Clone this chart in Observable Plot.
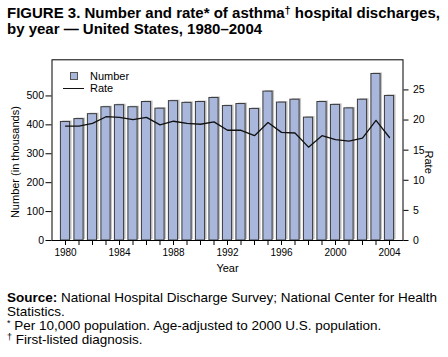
<!DOCTYPE html>
<html><head><meta charset="utf-8">
<script src="https://cdn.jsdelivr.net/npm/d3@7"></script>
<script src="https://cdn.jsdelivr.net/npm/@observablehq/plot@0.6"></script>
<style>
body{margin:0;width:448px;height:357px;position:relative;font-family:"Liberation Sans",Arial,Helvetica,sans-serif;background:#fff;overflow:hidden;color:#000}
#title{position:absolute;left:7px;top:5px;font-weight:bold;font-size:15px;line-height:16px;white-space:nowrap}
#chart{position:absolute;left:0;top:40px}
.leg{position:absolute;font-size:11px;line-height:12px;white-space:nowrap}
#foot{position:absolute;left:7px;top:290.5px;font-size:13.5px;line-height:14.3px;white-space:nowrap}
sup{font-size:9px;vertical-align:top;line-height:1}
</style></head>
<body>
<div id="title">FIGURE 3. Number and rate* of asthma<sup style="font-size:11px">†</sup> hospital discharges,<br>by year — United States, 1980–2004</div>
<div id="chart"></div>
<div style="position:absolute;left:70px;top:72px;width:6px;height:6px;background:#a9b7dc;border:1px solid #555"></div>
<div class="leg" style="left:90px;top:70px">Number</div>
<div style="position:absolute;left:63px;top:87.5px;width:21px;height:1.3px;background:#111"></div>
<div class="leg" style="left:90px;top:82px">Rate</div>
<div id="foot"><b>Source:</b> National Hospital Discharge Survey; National Center for Health<br>Statistics.<br><sup>*</sup> Per 10,000 population. Age-adjusted to 2000 U.S. population.<br><sup>†</sup> First-listed diagnosis.</div>
<script>
const years = [1980,1981,1982,1983,1984,1985,1986,1987,1988,1989,1990,1991,1992,1993,1994,1995,1996,1997,1998,1999,2000,2001,2002,2003,2004];
const numbers = [410,420,437,461,468,461,479,456,482,476,479,493,465,472,455,515,477,487,425,479,469,457,487,576,500];
const rates = [19.0,19.0,19.45,20.55,20.45,20.05,20.45,19.2,19.8,19.45,19.3,19.7,18.3,18.3,17.4,19.6,17.95,17.85,15.5,17.4,16.75,16.5,17.0,19.95,17.1];
const numberTicks = [0,100,200,300,400,500];
const rateTicks = [0,5,10,15,20,25];
const LMAX = 625, RMAX = 30, k = LMAX / RMAX;
const data = years.map((y, i) => ({year: y, number: numbers[i], rate: rates[i]}));
const font = '"Liberation Sans",Arial,Helvetica,sans-serif';
const chart = Plot.plot({
  width: 448, height: 250,
  marginTop: 19.3, marginBottom: 50, marginLeft: 51.5, marginRight: 45.5,
  x: {domain: [1979, 2005]},
  y: {domain: [0, LMAX]},
  style: {fontFamily: font, fontSize: "10px", color: "#000", background: "transparent"},
  marks: [
    Plot.rectY(data, {x1: d => d.year - 0.34, x2: d => d.year + 0.34, y: "number", fill: "#c4c4c4", dx: 2, dy: -1}),
    Plot.rectY(data, {x1: d => d.year - 0.34, x2: d => d.year + 0.34, y: "number", fill: "#a9b7dc", stroke: "#3a3a3a", strokeWidth: 1}),
    Plot.line(data, {x: "year", y: d => d.rate * k, stroke: "#111", strokeWidth: 1.3}),
    Plot.frame({stroke: "#000"}),
    Plot.axisY({ticks: numberTicks, tickSize: 6, tickPadding: 2, label: null, fontSize: 10.5}),
    Plot.axisY({anchor: "right", ticks: rateTicks.map(r => r * k), tickFormat: d => String(Math.round(d / k)), tickSize: 5, tickPadding: 5, label: null, fontSize: 10.5}),
    Plot.axisX({ticks: years, tickFormat: d => d % 4 === 0 ? String(d) : "", tickSize: 5, tickPadding: 3, label: null, fontSize: 10}),
    Plot.text(["Year"], {frameAnchor: "bottom", dy: 31, fontSize: 11, textAnchor: "middle"}),
    Plot.text(["Number (in thousands)"], {frameAnchor: "left", dx: -37, dy: 12, rotate: -90, fontSize: 11, textAnchor: "middle", lineAnchor: "middle"}),
    Plot.text(["Rate"], {frameAnchor: "right", dx: 25.5, dy: 12, rotate: 90, fontSize: 11, textAnchor: "middle", lineAnchor: "middle"})
  ]
});
document.getElementById("chart").appendChild(chart);
</script>
</body></html>
